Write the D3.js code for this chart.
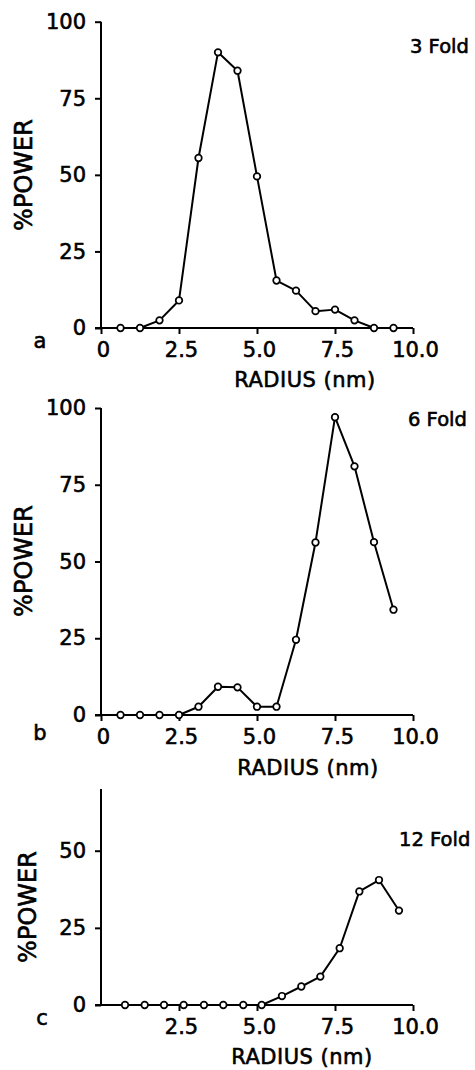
<!DOCTYPE html>
<html>
<head>
<meta charset="utf-8">
<script src="https://cdn.jsdelivr.net/npm/d3@7"></script>
<style>
  html, body { margin: 0; padding: 0; background: #fff; }
  svg { display: block; }
  text { font-family: "DejaVu Sans", sans-serif; fill: #000; stroke: #000; stroke-width: 0.6px; }
</style>
</head>
<body>
<svg id="chart" width="475" height="1070"></svg>
<script>
// ---- Data ----
const radiusA = [0.625, 1.25, 1.875, 2.5, 3.125, 3.75, 4.375, 5.0, 5.625, 6.25, 6.875, 7.5, 8.125, 8.75, 9.375];
const powerA  = [0, 0, 2.5, 9, 55.5, 90, 84, 49.5, 15.5, 12.2, 5.5, 6, 2.5, 0, 0];

const radiusB = [0.625, 1.25, 1.875, 2.5, 3.125, 3.75, 4.375, 5.0, 5.625, 6.25, 6.875, 7.5, 8.125, 8.75, 9.375];
const powerB  = [0, 0, 0, 0, 2.7, 9.2, 9, 2.7, 2.7, 24.5, 56.2, 97, 81, 56.3, 34.3];

const radiusC = [0.77, 1.4, 2.02, 2.65, 3.3, 3.92, 4.56, 5.15, 5.8, 6.42, 7.03, 7.65, 8.28, 8.91, 9.55];
const powerC  = [0, 0, 0, 0, 0, 0, 0, 0, 2.9, 6, 9.2, 18.4, 36.8, 40.5, 30.6];

const panelLetters = ["a", "b", "c"];
const foldLabels = ["3 Fold", "6 Fold", "12 Fold"];
const xTicksAB = [0, 2.5, 5, 7.5, 10];
const xTickLabelsAB = ["0", "2.5", "5.0", "7.5", "10.0"];
const xTicksC = [2.5, 5, 7.5, 10];
const xTickLabelsC = ["2.5", "5.0", "7.5", "10.0"];
const yTicksAB = [0, 25, 50, 75, 100];
const yTicksC = [0, 25, 50];
const yMaxAB = 100;
const yMaxC = 70;
const xLabel = "RADIUS (nm)";
const yLabel = "%POWER";

// ---- Layout ----
const panels = [
  { r: radiusA, p: powerA, letter: panelLetters[0], fold: foldLabels[0],
    xt: xTicksAB, xtl: xTickLabelsAB, yt: yTicksAB, ymax: yMaxAB,
    y0: 328, y1: 21.7, letterPos: [40, 348], foldPos: [410, 53],
    ylabPos: [24, 175], xlabPos: [305, 387] },
  { r: radiusB, p: powerB, letter: panelLetters[1], fold: foldLabels[1],
    xt: xTicksAB, xtl: xTickLabelsAB, yt: yTicksAB, ymax: yMaxAB,
    y0: 715, y1: 408, letterPos: [40, 740], foldPos: [408, 426],
    ylabPos: [24, 561], xlabPos: [308, 775] },
  { r: radiusC, p: powerC, letter: panelLetters[2], fold: foldLabels[2],
    xt: xTicksC, xtl: xTickLabelsC, yt: yTicksC, ymax: yMaxC,
    y0: 1005, y1: 789, letterPos: [42, 1025], foldPos: [399, 846],
    ylabPos: [28, 907], xlabPos: [302, 1064] }
];

const svg = d3.select("#chart");
const xLeft = 101, xRight = 413;

panels.forEach(pn => {
  const x = d3.scaleLinear().domain([0, 10]).range([xLeft, xRight]);
  const y = d3.scaleLinear().domain([0, pn.ymax]).range([pn.y0, pn.y1]);
  const g = svg.append("g");

  // x axis
  const xa = d3.axisBottom(x).tickValues(pn.xt)
    .tickFormat((d, i) => pn.xtl[i]).tickSize(6).tickSizeOuter(0).tickPadding(8);
  const gx = g.append("g").attr("transform", `translate(0,${pn.y0})`).call(xa);
  gx.select(".domain").attr("stroke-width", 2).attr("d", `M${xLeft - 6},0H${xRight}`);
  gx.selectAll(".tick line").attr("stroke-width", 2);
  gx.selectAll(".tick text").attr("font-size", 21).attr("dx", 2)
    .style("font-family", "DejaVu Sans, sans-serif");

  // y axis
  const ya = d3.axisLeft(y).tickValues(pn.yt).tickSize(6).tickSizeOuter(0).tickPadding(9);
  const gy = g.append("g").attr("transform", `translate(${xLeft},0)`).call(ya);
  gy.select(".domain").attr("stroke-width", 2).attr("d", `M0,${pn.y1}V${pn.y0}`);
  gy.selectAll(".tick line").attr("stroke-width", 2);
  gy.selectAll(".tick text").attr("font-size", 21)
    .style("font-family", "DejaVu Sans, sans-serif");

  // line
  const pts = pn.r.map((v, i) => [v, pn.p[i]]);
  g.append("path").datum(pts)
    .attr("fill", "none").attr("stroke", "#000").attr("stroke-width", 2)
    .attr("stroke-linejoin", "round")
    .attr("d", d3.line().x(d => x(d[0])).y(d => y(d[1])));

  g.selectAll("circle.pt").data(pts).enter().append("circle")
    .attr("class", "pt")
    .attr("cx", d => x(d[0])).attr("cy", d => y(d[1]))
    .attr("r", 3.3).attr("fill", "#fff").attr("stroke", "#000").attr("stroke-width", 1.7);

  // labels
  g.append("text").attr("x", pn.letterPos[0]).attr("y", pn.letterPos[1])
    .attr("text-anchor", "middle").attr("font-size", 21).text(pn.letter);
  g.append("text").attr("x", pn.foldPos[0]).attr("y", pn.foldPos[1])
    .attr("font-size", 19.5).text(pn.fold);
  g.append("text").attr("x", pn.xlabPos[0]).attr("y", pn.xlabPos[1])
    .attr("text-anchor", "middle").attr("font-size", 21).attr("letter-spacing", 0.5).text(xLabel);
  g.append("text")
    .attr("transform", `translate(${pn.ylabPos[0] + 8},${pn.ylabPos[1]}) rotate(-90)`)
    .attr("text-anchor", "middle").attr("font-size", 24).text(yLabel);
});
</script>
</body>
</html>
